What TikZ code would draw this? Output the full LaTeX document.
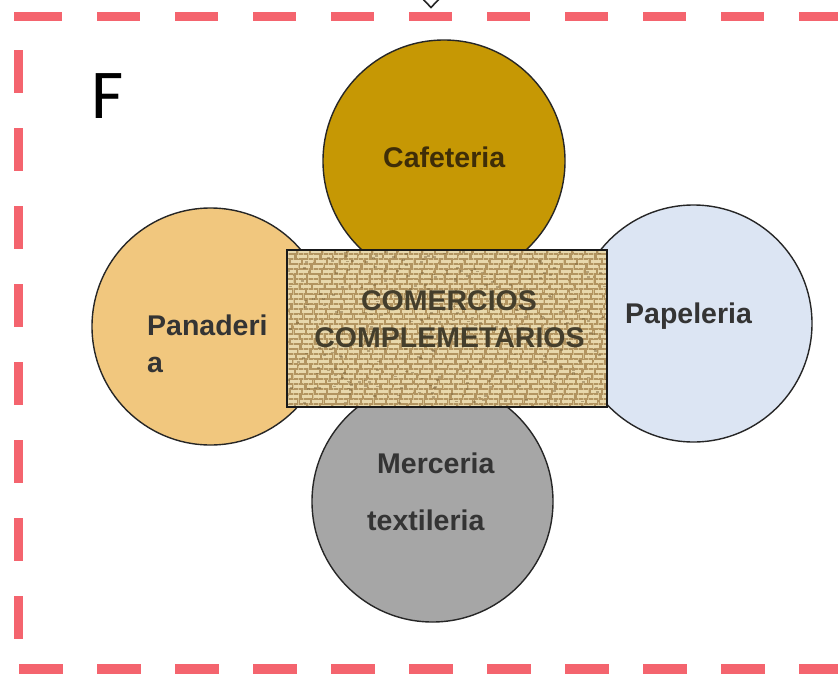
\documentclass[tikz,border=0pt]{standalone}
\usepackage{fontspec}
\setmainfont{Liberation Sans}
\newfontfamily\letterfont{Carlito}
\begin{document}
\begin{tikzpicture}[x=1pt,y=-1pt,
  shopcircle/.style={circle, draw=black!85, line width=1.4pt, inner sep=0pt, minimum size=#1},
  shoplabel/.style={anchor=base west, inner sep=0pt, text=labelgray, font=\fontsize{28.5}{34}\selectfont\bfseries},
  centerlabel/.style={anchor=base, inner sep=0pt, text=centertext, font=\fontsize{28.5}{34}\selectfont\bfseries},
  frameline/.style={draw=framered, line width=9.5pt, dash pattern=on 43pt off 35pt}
]
\definecolor{framered}{RGB}{244,100,110}
\definecolor{cafecolor}{RGB}{198,152,4}
\definecolor{panacolor}{RGB}{241,199,126}
\definecolor{papecolor}{RGB}{220,229,243}
\definecolor{mercecolor}{RGB}{166,166,166}
\definecolor{labelgray}{RGB}{52,52,52}
\definecolor{cafetext}{RGB}{62,45,8}
\definecolor{centertext}{RGB}{68,62,44}
\definecolor{burlapbase}{RGB}{178,148,96}
\definecolor{burlaplight}{RGB}{232,216,172}
\definecolor{burlapmid}{RGB}{214,192,142}
\definecolor{burlapdark}{RGB}{120,96,56}

\useasboundingbox (0,0) rectangle (838,675);

% dashed frame
\draw[frameline] (19,16.5) -- (845,16.5);
\fill[framered] (13.75,11.75) rectangle (19,21.25);
\draw[frameline, dash pattern=on 44pt off 34pt] (19,669) -- (845,669);
\draw[frameline] (18.5,50) -- (18.5,640);

% arrow tip entering from above
\draw[fill=white, draw=black!85, line width=1.6pt] (421,-3) -- (431,7.5) -- (441,-3) -- (431,-13) -- cycle;

% section letter
\node[anchor=base west, inner sep=0pt, font=\letterfont\fontsize{70}{70}\selectfont] (letter) at (91,118) {F};

% the four shops around the centre
\node[shopcircle=242pt, fill=cafecolor]  (cafe) at (444,161) {};
\node[shopcircle=237pt, fill=panacolor]  (pana) at (210.5,326.5) {};
\node[shopcircle=237pt, fill=papecolor]  (pape) at (693.5,323.5) {};
\node[shopcircle=241pt, fill=mercecolor] (merc) at (432.5,501.5) {};

% centre block with woven texture
\node[rectangle, minimum width=320pt, minimum height=157pt, inner sep=0pt] (core) at (447,328.5) {};
\begin{scope}
  \clip (core.south west) rectangle (core.north east);
  \fill[burlapbase] (core.south west) rectangle (core.north east);
  \pgfmathsetseed{7}
  \foreach \xx in {288.5,293.5,...,607} {
    \draw[burlapmid, line width=1.8pt, dash pattern=on 8pt off 2.5pt, dash phase={11*rnd}] (\xx,250) -- (\xx,407);
  }
  \foreach \yy in {251.5,256.5,...,407} {
    \draw[burlaplight, line width=2.2pt, dash pattern=on 10pt off 2.5pt, dash phase={13*rnd}] (287,\yy) -- (607,\yy);
  }
  \foreach \i in {1,...,320} {
    \pgfmathsetmacro\rx{287+320*rnd}
    \pgfmathsetmacro\ry{250+157*rnd}
    \fill[burlapdark, opacity=0.45] (\rx,\ry) rectangle ++(3,1.6);
  }
\end{scope}
\draw[black!90, line width=1.8pt] (core.south west) rectangle (core.north east);

% labels
\node[shoplabel, text=cafetext] (cafetxt) at (383,167) {Cafeteria};
\node[shoplabel] (panatxt1) at (147,335) {Panaderi};
\node[shoplabel] (panatxt2) at (147,372) {a};
\node[shoplabel] (papetxt) at (625,323) {Papeleria};
\node[shoplabel] (merctxt1) at (377,473) {Merceria};
\node[shoplabel] (merctxt2) at (367,530) {textileria};
\node[centerlabel] (coretxt1) at (449,310) {COMERCIOS};
\node[centerlabel] (coretxt2) at (449.5,347) {COMPLEMETARIOS};
\end{tikzpicture}
\end{document}
